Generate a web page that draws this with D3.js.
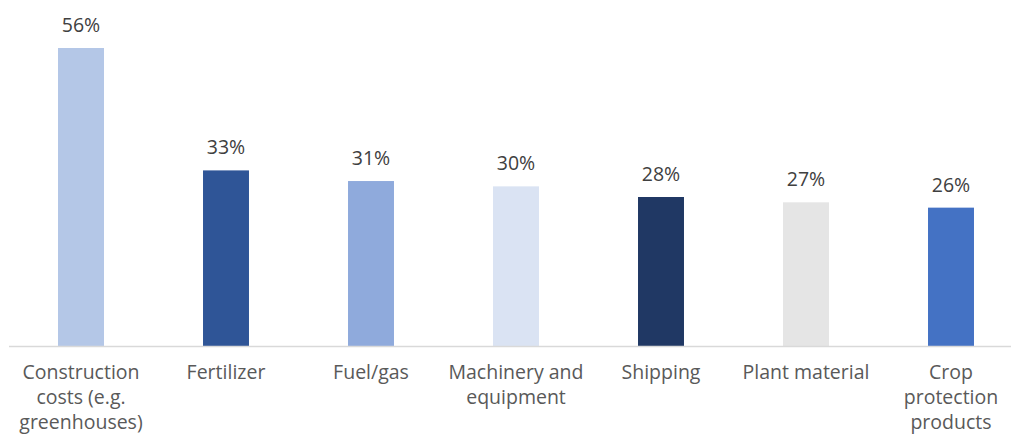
<!DOCTYPE html>
<html>
<head>
<meta charset="utf-8">
<script src="https://cdn.jsdelivr.net/npm/d3@7"></script>
<style>
  html, body { margin: 0; padding: 0; background: #fff; }
  svg { display: block; }
</style>
</head>
<body>
<svg id="chart" width="1011" height="436"></svg>
<script>
const categories = [
  "Construction costs (e.g. greenhouses)",
  "Fertilizer",
  "Fuel/gas",
  "Machinery and equipment",
  "Shipping",
  "Plant material",
  "Crop protection products"
];
const categoryLines = [
  ["Construction", "costs (e.g.", "greenhouses)"],
  ["Fertilizer"],
  ["Fuel/gas"],
  ["Machinery and", "equipment"],
  ["Shipping"],
  ["Plant material"],
  ["Crop", "protection", "products"]
];
const values = [56, 33, 31, 30, 28, 27, 26];
const barColors = ["#B4C7E7", "#2F5597", "#8FAADC", "#DAE3F3", "#203864", "#E5E5E5", "#4472C4"];

const svg = d3.select("#chart");
const font = "'Open Sans', 'Noto Sans', sans-serif";

const x = d3.scaleBand()
  .domain(categories)
  .range([8.5, 1023.5])
  .paddingInner(0.683)
  .paddingOuter(0.3415);

const y = d3.scaleLinear()
  .domain([0, 56])
  .range([346, 48]);

// bars
svg.append("g").selectAll("rect")
  .data(categories)
  .join("rect")
  .attr("x", d => x(d))
  .attr("width", x.bandwidth())
  .attr("y", (d, i) => y(values[i]))
  .attr("height", (d, i) => y(0) - y(values[i]))
  .attr("fill", (d, i) => barColors[i]);

// axis
const axis = svg.append("g")
  .attr("transform", `translate(0,${y(0)})`)
  .call(d3.axisBottom(x).tickSize(0).tickFormat(""));
axis.select(".domain").attr("stroke", "#D9D9D9").attr("stroke-width", 1.3)
  .attr("d", "M9,0.5H1011");

// category labels
const labels = svg.append("g").selectAll("text")
  .data(categories)
  .join("text")
  .attr("x", d => x(d) + x.bandwidth() / 2)
  .attr("y", 379)
  .attr("text-anchor", "middle")
  .attr("font-family", font)
  .attr("font-size", 19.5)
  .attr("fill", "#595959");
labels.each(function(d, i) {
  const t = d3.select(this);
  categoryLines[i].forEach((ln, j) => {
    t.append("tspan")
      .attr("x", x(d) + x.bandwidth() / 2)
      .attr("dy", j === 0 ? 0 : 25)
      .text(ln);
  });
});

// value labels
svg.append("g").selectAll("text")
  .data(categories)
  .join("text")
  .attr("x", d => x(d) + x.bandwidth() / 2)
  .attr("y", (d, i) => y(values[i]) - 16)
  .attr("text-anchor", "middle")
  .attr("font-family", font)
  .attr("font-size", 19.5)
  .attr("fill", "#404040")
  .text((d, i) => values[i] + "%");
</script>
</body>
</html>
